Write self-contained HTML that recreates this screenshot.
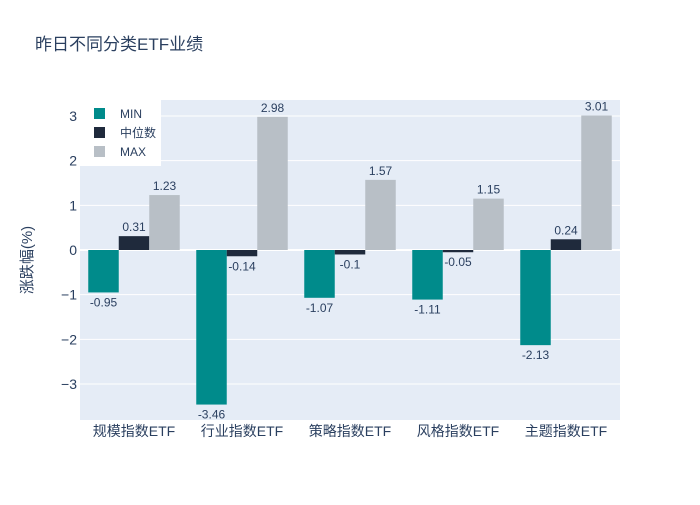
<!DOCTYPE html>
<html><head><meta charset="utf-8"><style>
body{margin:0;background:#fff;font-family:"Liberation Sans","Noto Sans CJK SC",sans-serif}
text{font-family:"Liberation Sans","Noto Sans CJK SC",sans-serif}
</style></head><body>
<svg id="chart" width="700" height="500">
<rect x="0" y="0" width="700" height="500" fill="#fff"/>
<text x="35" y="50" font-size="17" fill="#2a3f5f">昨日不同分类ETF业绩</text>
<rect x="80" y="100" width="540" height="320" fill="#e5ecf6"/>
<g id="grid"></g><g id="bars"></g><g id="labels"></g><g id="axes"></g>
<text transform="translate(32,260) rotate(-90)" text-anchor="middle" font-size="15" fill="#2a3f5f">涨跌幅(%)</text>
<g>
<rect x="80" y="100" width="81" height="66" fill="#fff"/>
<rect x="94" y="108" width="11" height="11" fill="#008b8b"/>
<text x="120" y="118" font-size="12" fill="#2a3f5f">MIN</text>
<rect x="94" y="127" width="11" height="11" fill="#1f2a3c"/>
<text x="120" y="137" font-size="12" fill="#2a3f5f">中位数</text>
<rect x="94" y="146" width="11" height="11" fill="#b8bfc6"/>
<text x="120" y="156" font-size="12" fill="#2a3f5f">MAX</text>
</g>
</svg>
<script>
const categories=["规模指数ETF","行业指数ETF","策略指数ETF","风格指数ETF","主题指数ETF"];
const minValues=[-0.95,-3.46,-1.07,-1.11,-2.13];
const medianValues=[0.31,-0.14,-0.1,-0.05,0.24];
const maxValues=[1.23,2.98,1.57,1.15,3.01];
const yTicks=[-3,-2,-1,0,1,2,3];
const yTickLabels=["−3","−2","−1","0","1","2","3"];
const NS="http://www.w3.org/2000/svg";
const X0=80,W=540,Y0=250,UNIT=44.67;
const y=v=>Y0-v*UNIT;
const band=W/categories.length;
const xc=i=>X0+band*(i+0.5);
function mk(tag,attrs,parent){const e=document.createElementNS(NS,tag);for(const k in attrs)e.setAttribute(k,attrs[k]);document.getElementById(parent).appendChild(e);return e;}
yTicks.forEach((t,i)=>{
 const l=mk('line',{x1:X0,x2:X0+W,y1:y(t),y2:y(t),stroke:'#fff','stroke-width':t===0?2:1},'grid');
 
 
 const tx=mk('text',{x:X0-3,y:y(t)+5,'text-anchor':'end','font-size':14,fill:'#2a3f5f'},'axes');
 tx.textContent=yTickLabels[i];
 
 
});
categories.forEach((c,i)=>{
 const tx=mk('text',{x:xc(i),y:436,'text-anchor':'middle','font-size':14,fill:'#2a3f5f'},'axes');
 tx.textContent=c;
 
 
});
const series=[[minValues,'#008b8b','min'],[medianValues,'#1f2a3c','median'],[maxValues,'#b8bfc6','max']];
const bw=30.5;
series.forEach((s,si)=>{
 s[0].forEach((v,i)=>{
  const x=xc(i)-1.5*bw+si*bw;
  const top=Math.min(y(v),Y0),h=Math.abs(y(v)-Y0);
  const r=mk('rect',{x:x,y:top,width:bw,height:h,fill:s[1]},'bars');
  
  
  const t=mk('text',{x:x+bw/2,y:v>=0?y(v)-5:y(v)+14,'text-anchor':'middle','font-size':12,fill:'#2a3f5f'},'labels');
  t.textContent=String(v);
  
  
 });
});
</script>
</body></html>
